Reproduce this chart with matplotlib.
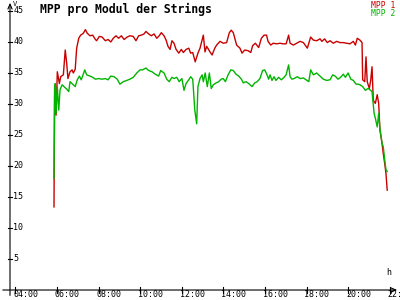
import matplotlib
matplotlib.use('Agg')
import matplotlib.pyplot as plt
import matplotlib.transforms as mtransforms

# MPP 1 (red), time in hours, value in V
mpp1_t = [5.86, 5.89, 5.96, 6.02, 6.12, 6.18, 6.31, 6.40, 6.47, 6.53, 6.63, 6.73, 6.79, 6.88,
          6.95, 7.05, 7.14, 7.27, 7.37, 7.46, 7.59, 7.72, 7.85, 7.91, 8.04, 8.17, 8.33, 8.46,
          8.59, 8.71, 8.84, 8.97, 9.10, 9.23, 9.38, 9.51, 9.67, 9.80, 9.93, 10.06, 10.19, 10.28,
          10.41, 10.54, 10.67, 10.80, 10.92, 11.02, 11.15, 11.25, 11.34, 11.44, 11.53, 11.63,
          11.73, 11.86, 11.98, 12.08, 12.21, 12.34, 12.43, 12.53, 12.65, 12.78, 12.88, 13.04,
          13.12, 13.20, 13.36, 13.46, 13.59, 13.68, 13.84, 14.00, 14.16, 14.29, 14.38, 14.48,
          14.55, 14.64, 14.80, 14.90, 15.03, 15.19, 15.32, 15.41, 15.54, 15.70, 15.83, 15.96,
          16.08, 16.15, 16.28, 16.40, 16.57, 16.73, 16.86, 17.02, 17.14, 17.21, 17.37, 17.53,
          17.69, 17.85, 18.04, 18.20, 18.33, 18.49, 18.65, 18.74, 18.87, 19.00, 19.13, 19.29,
          19.45, 19.61, 19.77, 19.93, 20.09, 20.25, 20.35, 20.44, 20.57, 20.67, 20.70, 20.80,
          20.86, 20.92, 21.02, 21.09, 21.15, 21.21, 21.31, 21.40, 21.47, 21.53, 21.63, 21.69,
          21.76, 21.82, 21.88]
mpp1_v = [13.4, 32.8, 28.2, 35.2, 33.3, 34.4, 34.7, 38.7, 36.6, 34.1, 35.2, 35.5, 35.0, 35.6,
          39.0, 40.6, 41.1, 41.4, 42.0, 41.4, 41.0, 41.1, 40.4, 40.2, 40.9, 40.8, 40.2, 40.4,
          40.0, 40.6, 41.0, 40.6, 41.0, 40.4, 40.8, 41.0, 40.9, 40.2, 41.0, 41.1, 41.3, 41.7,
          41.3, 41.0, 41.3, 40.6, 41.0, 41.5, 41.0, 40.3, 39.3, 38.8, 40.2, 39.8,
          38.8, 38.2, 38.8, 38.3, 38.8, 39.0, 38.2, 38.3, 36.8, 38.2, 39.0, 41.1,
          38.4, 39.3, 38.4, 37.9, 39.0, 39.5, 40.1, 39.8, 39.9, 41.5, 41.9, 41.5,
          40.6, 39.5, 39.0, 38.2, 38.7, 38.6, 38.3, 39.4, 39.8, 39.1, 40.6, 41.1,
          41.1, 40.1, 39.5, 39.8, 39.7, 39.8, 39.7, 39.7, 41.1, 39.8, 39.5, 39.8,
          40.1, 39.9, 39.0, 40.8, 40.3, 40.2, 40.5, 40.1, 40.5, 39.9, 40.2, 39.8,
          40.1, 39.9, 39.9, 39.8, 39.7, 40.1, 39.5, 40.6, 40.3, 39.9, 33.9, 33.6,
          37.6, 33.6, 32.5, 33.9, 36.0, 30.6, 30.1, 31.5, 30.1, 25.8, 23.7, 22.0,
          20.4, 18.8, 16.1]

# MPP 2 (green)
mpp2_t = [5.86, 5.89, 5.92, 5.96, 6.02, 6.09, 6.15, 6.25, 6.34, 6.47, 6.57, 6.63, 6.79, 6.88,
          6.98, 7.08, 7.17, 7.34, 7.43, 7.59, 7.72, 7.85, 8.01, 8.17, 8.33, 8.46, 8.59, 8.75,
          8.90, 9.03, 9.19, 9.36, 9.51, 9.67, 9.84, 10.00, 10.12, 10.28, 10.41, 10.57, 10.73,
          10.89, 10.99, 11.15, 11.28, 11.40, 11.53, 11.63, 11.76, 11.88, 12.01, 12.11, 12.21,
          12.34, 12.43, 12.53, 12.63, 12.72, 12.78, 12.88, 12.98, 13.04, 13.13, 13.23, 13.33,
          13.42, 13.52, 13.65, 13.78, 13.90, 14.00, 14.10, 14.23, 14.36, 14.48, 14.61, 14.74,
          14.87, 14.96, 15.09, 15.22, 15.38, 15.51, 15.63, 15.76, 15.89, 15.99, 16.09, 16.18,
          16.25, 16.34, 16.44, 16.53, 16.66, 16.79, 16.92, 17.02, 17.08, 17.14, 17.21, 17.30,
          17.40, 17.56, 17.69, 17.85, 17.98, 18.11, 18.20, 18.33, 18.49, 18.65, 18.81, 18.97,
          19.13, 19.26, 19.38, 19.51, 19.64, 19.77, 19.87, 20.00, 20.13, 20.25, 20.38, 20.47,
          20.57, 20.70, 20.83, 20.96, 21.05, 21.15, 21.25, 21.31, 21.40, 21.47, 21.53, 21.63,
          21.69, 21.76, 21.82, 21.88]
mpp2_v = [18.0, 31.2, 33.3, 28.5, 32.8, 29.0, 32.3, 33.1, 32.8, 32.4, 32.0, 33.6, 33.1, 32.8,
          33.9, 34.5, 33.9, 35.5, 34.7, 34.5, 34.3, 34.0, 34.1, 34.0, 34.1, 33.9, 34.5, 34.4,
          34.0, 33.2, 33.6, 33.8, 34.0, 34.3, 35.0, 35.5, 35.5, 35.8, 35.4, 35.2, 34.8,
          34.5, 35.4, 35.0, 34.0, 33.6, 34.3, 34.1, 34.3, 33.6, 34.1, 32.2, 33.3,
          33.9, 34.4, 34.0, 29.0, 26.8, 32.8, 34.1, 34.7, 33.6, 35.0, 32.8, 35.0,
          32.5, 33.1, 33.4, 33.6, 34.0, 34.1, 33.6, 34.7, 35.5, 35.4, 34.8, 34.5,
          34.0, 33.4, 33.6, 33.3, 32.8, 33.4, 33.6, 34.1, 35.4, 35.5, 34.8, 34.0,
          34.7, 33.8, 34.4, 33.8, 34.3, 33.9, 34.3, 34.7, 35.5, 36.3, 34.4, 34.0,
          34.1, 34.4, 34.1, 34.2, 33.9, 33.6, 35.5, 34.7, 35.0, 34.5, 34.0, 33.8,
          33.9, 34.7, 34.5, 34.0, 34.3, 34.8, 34.3, 35.0, 34.0, 33.8, 33.2, 33.2,
          33.1, 32.8, 32.2, 32.5, 32.3, 32.0, 28.5, 27.7, 26.3, 28.5, 26.0, 23.7,
          23.1, 21.0, 19.4, 19.1]

y_ticks = [5, 10, 15, 20, 25, 30, 35, 40, 45]
x_ticks = [4, 6, 8, 10, 12, 14, 16, 18, 20, 22]
x_labels = ['04:00', '06:00', '08:00', '10:00', '12:00', '14:00', '16:00', '18:00', '20:00', '22:00']

mono = 'DejaVu Sans Mono'

fig = plt.figure(figsize=(4, 3), dpi=100)
fig.patch.set_facecolor('white')
ax = fig.add_axes([0, 0, 1, 1])
ax.set_xlim(3.264, 22.495)
ax.set_ylim(-1.613, 46.77)
ax.axis('off')

ax.plot(mpp1_t, mpp1_v, color='#c80000', lw=1.0)
ax.plot(mpp2_t, mpp2_v, color='#00b400', lw=1.0)

# axes with arrows
ax.annotate('', xy=(0.025, 1.0), xytext=(0.025, 0.006), xycoords='axes fraction',
            arrowprops=dict(arrowstyle='->,head_length=0.35,head_width=0.15', color='black', lw=0.8))
ax.annotate('', xy=(1.0, 0.0333), xytext=(0.0, 0.0333), xycoords='axes fraction',
            arrowprops=dict(arrowstyle='->,head_length=0.35,head_width=0.15', color='black', lw=0.8))

# y ticks
ty = mtransforms.blended_transform_factory(ax.transAxes, ax.transData)
for v in y_ticks:
    ax.plot([0.02, 0.031], [v, v], color='black', lw=0.8, transform=ty)
    ax.text(0.033, v, str(v), transform=ty, fontsize=6, family=mono,
            ha='left', va='center')

# x ticks
tx = mtransforms.blended_transform_factory(ax.transData, ax.transAxes)
for t, lab in zip(x_ticks, x_labels):
    ax.plot([t, t], [0.023, 0.045], color='black', lw=0.8, transform=tx)
    ax.text(t - 0.1, 0.004, lab, transform=tx, fontsize=6, family=mono,
            ha='left', va='bottom')

fig.text(0.0325, 0.997, 'V', fontsize=5, family=mono, ha='left', va='top')
fig.text(0.965, 0.077, 'h', fontsize=6, family=mono, ha='left', va='bottom')

fig.text(0.1, 0.99, 'MPP pro Modul der Strings', fontsize=8.3, family=mono,
         fontweight='bold', ha='left', va='top')
fig.text(0.988, 0.9733, 'MPP 1', fontsize=5.8, family=mono, color='#c80000',
         ha='right', va='baseline')
fig.text(0.988, 0.947, 'MPP 2', fontsize=5.8, family=mono, color='#00b400',
         ha='right', va='baseline')

fig.savefig('out.png', dpi=100)
plt.close(fig)
